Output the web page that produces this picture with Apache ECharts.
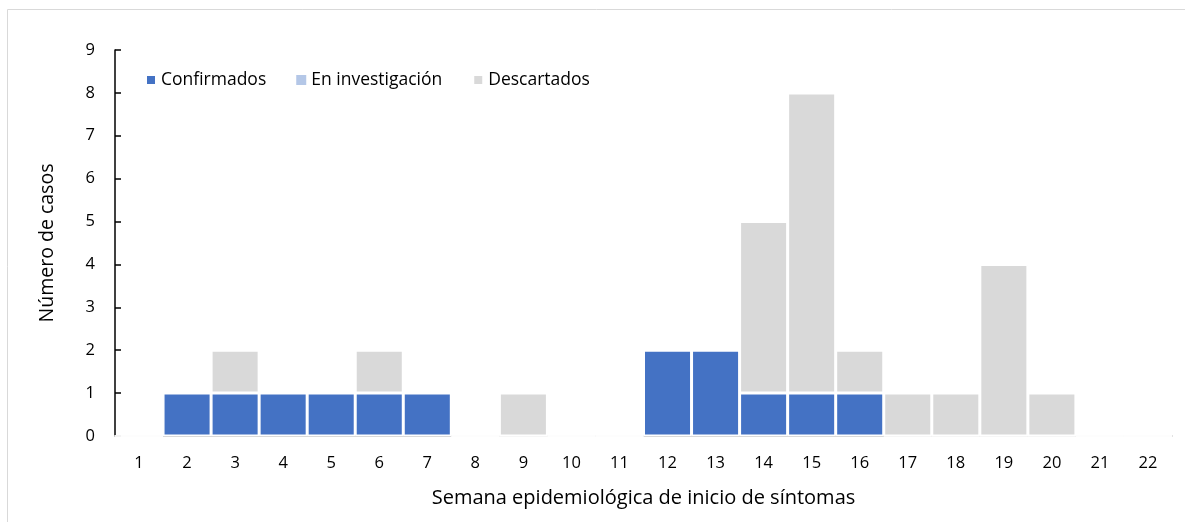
<!DOCTYPE html>
<html><head><meta charset="utf-8">
<script src="https://cdn.jsdelivr.net/npm/echarts@6/dist/echarts.min.js"></script>
<style>html,body{margin:0;padding:0;background:#fff}#c{width:1185px;height:522px}</style>
</head><body><div id="c"></div>
<script>
const weeks = ['1','2','3','4','5','6','7','8','9','10','11','12','13','14','15','16','17','18','19','20','21','22'];
const confirmados = [0,1,1,1,1,1,1,0,0,0,0,2,2,1,1,1,0,0,0,0,0,0];
const enInvestigacion = [0,0,0,0,0,0,0,0,0,0,0,0,0,0,0,0,0,0,0,0,0,0];
const descartados = [0,0,1,0,0,1,0,0,1,0,0,0,0,4,7,1,1,1,4,1,0,0];
const yTicks = [0,1,2,3,4,5,6,7,8,9];

const FONT = 'Open Sans';
const chart = echarts.init(document.getElementById('c'), null, {renderer:'canvas'});
chart.setOption({
  animation:false,
  textStyle:{fontFamily:FONT, color:'#000'},
  graphic:[{type:'rect', shape:{x:7.5,y:9.5,width:1180,height:520}, style:{fill:'none', stroke:'#d9d9d9', lineWidth:1}, silent:true}],
  legend:{
    left:140, top:66, itemWidth:10, itemHeight:10, itemGap:30,
    textStyle:{fontFamily:FONT, fontSize:17.5, color:'#000'},
    data:[{name:'Confirmados', icon:'rect'},{name:'En investigación', icon:'rect'},{name:'Descartados', icon:'rect'}]
  },
  grid:{left:115, right:13, top:50, bottom:86, containLabel:false},
  xAxis:{
    type:'category', data:weeks,
    name:'Semana epidemiológica de inicio de síntomas', nameLocation:'middle', nameGap:52,
    nameTextStyle:{fontFamily:FONT, fontSize:20, color:'#000'},
    axisLine:{lineStyle:{color:'#d9d9d9', width:2}},
    axisTick:{show:false},
    axisLabel:{fontFamily:FONT, fontSize:16.5, color:'#000', margin:19}
  },
  yAxis:{
    type:'value', min:yTicks[0], max:yTicks[yTicks.length-1], interval:1,
    name:'Número de casos', nameLocation:'middle', nameGap:58, nameRotate:90,
    nameTextStyle:{fontFamily:FONT, fontSize:19.5, color:'#000'},
    axisLine:{show:true, lineStyle:{color:'#000', width:1.5}},
    axisTick:{show:true, inside:true, length:6, lineStyle:{color:'#000', width:1.5}},
    splitLine:{show:false},
    axisLabel:{fontFamily:FONT, fontSize:16.5, color:'#000', margin:20}
  },
  series:[
    {name:'Confirmados', type:'bar', stack:'a', data:confirmados, barCategoryGap:'0%',
      itemStyle:{color:'#4472c4', borderColor:'#fff', borderWidth:1.5}},
    {name:'En investigación', type:'bar', stack:'a', data:enInvestigacion,
      itemStyle:{color:'#b4c7e7', borderWidth:0}},
    {name:'Descartados', type:'bar', stack:'a', data:descartados,
      itemStyle:{color:'#d9d9d9', borderColor:'#fff', borderWidth:1.5}}
  ]
});
</script></body></html>
